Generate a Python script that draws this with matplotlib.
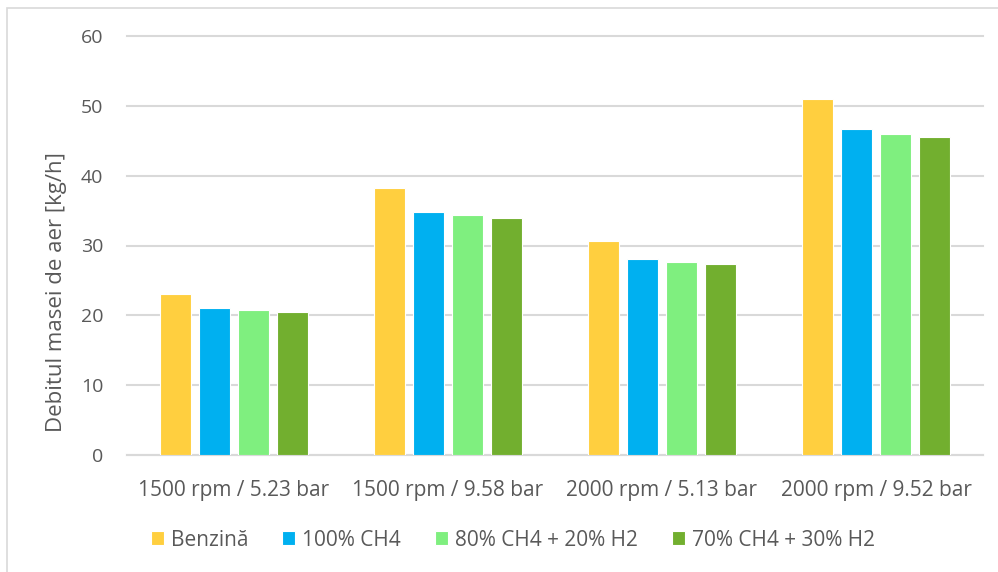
import matplotlib
matplotlib.use("Agg")
import matplotlib.pyplot as plt
from matplotlib.patches import Rectangle
import numpy as np

# Operating points and air mass flow per fuel
categories = ["1500 rpm / 5.23 bar", "1500 rpm / 9.58 bar",
              "2000 rpm / 5.13 bar", "2000 rpm / 9.52 bar"]
fuels = ["Benzină", "100% CH4", "80% CH4 + 20% H2", "70% CH4 + 30% H2"]
benzina = [23.0, 38.2, 30.7, 51.0]
ch4_100 = [21.1, 34.8, 28.0, 46.7]
ch4_80_h2_20 = [20.7, 34.3, 27.6, 45.9]
ch4_70_h2_30 = [20.5, 34.0, 27.4, 45.5]
colors = ["#FFCF3F", "#00B0F0", "#7FEF7F", "#72AF2F"]

plt.rcParams["font.family"] = ["Open Sans", "DejaVu Sans"]
text_color = "#595959"

fig = plt.figure(figsize=(9.98, 5.72), dpi=100)
ax = fig.add_axes([127 / 998, 117 / 572, 856 / 998, 419 / 572])

series = [benzina, ch4_100, ch4_80_h2_20, ch4_70_h2_30]
x = np.arange(len(categories))
slot = 0.1825
for j, (vals, col, name) in enumerate(zip(series, colors, fuels)):
    ax.bar(x + (j - 1.5) * slot, vals, width=0.145, color=col,
           edgecolor="white", linewidth=0.8, label=name, zorder=3)

ax.set_xlim(-0.5, 3.5)
ax.set_ylim(0, 60)
ax.set_yticks(range(0, 61, 10))
ax.yaxis.grid(True, color="#D9D9D9", linewidth=1.5, zorder=0)
for gl in ax.get_ygridlines():
    gl.set_clip_on(False)
ax.set_xticks(x)
ax.set_xticklabels(categories)
ax.tick_params(axis="both", length=0, colors=text_color)
ax.tick_params(axis="x", pad=18, labelsize=15)
ax.tick_params(axis="y", pad=17, labelsize=14)
for s in ["top", "right", "left"]:
    ax.spines[s].set_visible(False)
ax.spines["bottom"].set_color("#D9D9D9")
ax.spines["bottom"].set_linewidth(1.5)
ax.set_ylabel("Debitul masei de aer [kg/h]", fontsize=16, color=text_color)
ax.yaxis.set_label_coords(-60 / 856, 0.39)

fig.legend(loc="center", bbox_to_anchor=(513 / 998, 32 / 572), ncol=4, frameon=False,
           fontsize=15, labelcolor=text_color, handlelength=0.63, handleheight=0.63,
           handletextpad=0.34, columnspacing=1.63)

# chart area border
fig.patches.append(Rectangle((6.5 / 998, -0.01), 1.0, 1 - 7.5 / 572 + 0.01,
                             transform=fig.transFigure, fill=False,
                             edgecolor="#D9D9D9", linewidth=1.2))

fig.savefig("out.png", dpi=100, facecolor="white")
